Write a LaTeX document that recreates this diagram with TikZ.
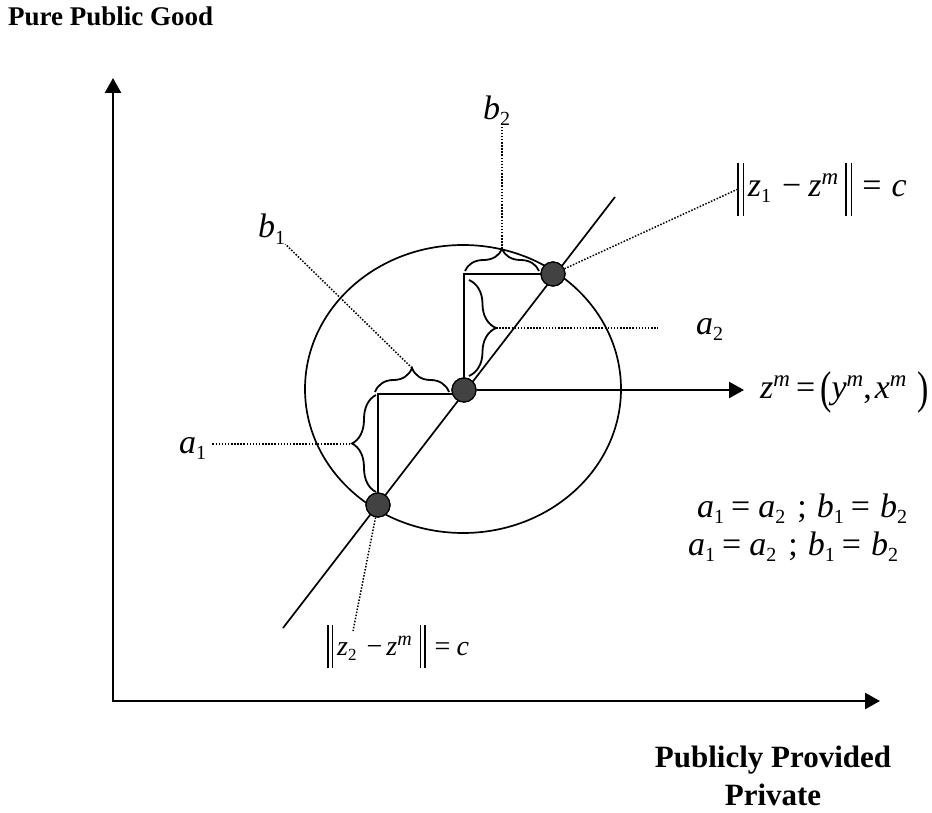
\documentclass[tikz,border=0pt]{standalone}
\usepackage{fontspec}
\usepackage{graphicx}
\setmainfont{Liberation Serif}
\usetikzlibrary{arrows.meta,decorations.pathreplacing,calc}
\tikzset{bigtri/.tip={Triangle[length=15pt,width=16pt]}}
\newcommand\sbs[2][20]{\raisebox{-6pt}{\fontsize{#1}{#1}\selectfont\upshape #2}}
\newcommand\sps[2][23]{\raisebox{12pt}{\fontsize{#1}{#1}\selectfont\itshape #2}}
\newcommand\nbarA{\rule[-19pt]{1.6pt}{53pt}\hspace{4pt}\rule[-19pt]{1.6pt}{53pt}}
\newcommand\nbarB{\rule[-13pt]{1.5pt}{43pt}\hspace{3pt}\rule[-13pt]{1.5pt}{43pt}}
\begin{document}
\begin{tikzpicture}[x=1pt,y=-1pt,
  axisline/.style={line width=2.6pt,line join=miter},
  thinline/.style={line width=1.7pt},
  dot/.style={circle,draw=black,line width=1.2pt,fill=black!74,minimum size=24pt,inner sep=0pt},
  lead/.style={line width=1.5pt,dash pattern=on 1.5pt off 1.6pt},
  brc/.style={line width=1.8pt,decorate,decoration={brace,amplitude=#1}},
  mlbl/.style={inner sep=0pt,anchor=base west,font=\fontsize{34}{34}\selectfont},
  blbl/.style={inner sep=0pt,font=\fontsize{#1}{#1}\selectfont\bfseries}
]
\useasboundingbox (0,0) rectangle (932,813);

% axes
\coordinate (O) at (113,701);
\coordinate (Ytip) at (113,78);
\coordinate (Xtip) at (880,701);
\draw[axisline,bigtri-bigtri] (Ytip) -- (O) -- (Xtip);

% ellipse
\draw[thinline] (463,389) ellipse [x radius=158pt, y radius=144pt];

% diagonal line
\coordinate (L1) at (283,628);
\coordinate (L2) at (615,197);
\draw[thinline] (L1) -- (L2);

% dots (nodes defined first, drawn later on top)
\path (378,505) node[dot] (z2) {};
\path (464,390) node[dot] (zm) {};
\path (553,274) node[dot] (z1) {};

% steps
\draw[thinline] (z2.center) |- ([yshift=-4pt]zm.center);
\draw[thinline] (zm.center) |- (z1.center);

% braces
\draw[brc=24pt] (375,392) -- (449,392);
\coordinate (tb1) at (412,368);
\draw[brc=24pt] (376,492) -- (376,395);
\coordinate (ta1) at (352,444);
\draw[brc=22pt] (465,271) -- (539,271);
\coordinate (tb2) at (502,249);
\draw[brc=27pt] (469,280) -- (469,376);
\coordinate (ta2) at (496,328);

% labels
\node[blbl=27,anchor=base west] (pg) at (8,26) {Pure Public Good};
\node[blbl=31,anchor=base] (pp1) at (773,767) {Publicly Provided};
\node[blbl=31,anchor=base] (pp2) at (773,805) {Private};

\node[mlbl] (b2lbl) at (483,120) {\textit{b}\sbs{2}};
\node[mlbl] (b1lbl) at (258,238) {\textit{b}\sbs{1}};
\node[mlbl] (a1lbl) at (179,453) {\textit{a}\sbs{1}};
\node[mlbl] (a2lbl) at (696,334) {\textit{a}\sbs{2}};

\node[mlbl] (n1) at (737,197) {\nbarA\hspace{3.5pt}\textit{z}\sbs{1}\hspace{11pt}−\hspace{7pt}\textit{z}\sps{m}\hspace{7pt}\nbarA\hspace{10pt}=\hspace{10pt}\textit{c}};
\node[mlbl,font=\fontsize{28}{28}\selectfont] (n2) at (327,655) {\nbarB\hspace{4pt}\textit{z}\raisebox{-5pt}{\fontsize{17}{17}\selectfont 2}\hspace{10pt}−\hspace{4pt}\textit{z}\raisebox{10pt}{\fontsize{20}{20}\selectfont\itshape m}\hspace{8pt}\nbarB\hspace{9pt}=\hspace{6pt}\textit{c}};
\coordinate (n2end) at (353,631);

\node[mlbl] (zmlbl) at (760,398) {\textit{z}\sps{m}\hspace{6pt}=\hspace{5pt}\raisebox{-5pt}{\scalebox{1}[1.35]{(}}\textit{y}\sps{m},\hspace{3pt}\textit{x}\sps{m}\hspace{11pt}\raisebox{-5pt}{\scalebox{1}[1.35]{)}}};

\node[mlbl] (eq1) at (697,517) {\textit{a}\sbs{1}\hspace{7pt}=\hspace{8pt}\textit{a}\sbs{2}\hspace{12pt};\hspace{10pt}\textit{b}\sbs{1}\hspace{7pt}=\hspace{10pt}\textit{b}\sbs{2}};
\node[mlbl] (eq2) at (688,555) {\textit{a}\sbs{1}\hspace{7pt}=\hspace{8pt}\textit{a}\sbs{2}\hspace{12pt};\hspace{10pt}\textit{b}\sbs{1}\hspace{7pt}=\hspace{10pt}\textit{b}\sbs{2}};

% leaders
\draw[lead] (tb2) -- (tb2 |- b2lbl.south);
\draw[lead] (z1) -- (n1.west);
\draw[lead] (tb1) -- (b1lbl.south east);
\draw[lead] ($(a1lbl.east |- ta1)+(6,0)$) -- (ta1);
\draw[lead] (ta2) -- ($(a2lbl.west |- ta2)+(-38,0)$);
\draw[lead] (z2) -- (n2end);

% arrow to z^m label
\draw[line width=2.6pt,-bigtri] (zm) -- ($(zm -| zmlbl.west)+(-16,0)$);

% dots on top
\node[dot] at (z2) {};
\node[dot] at (zm) {};
\node[dot] at (z1) {};
\end{tikzpicture}
\end{document}
